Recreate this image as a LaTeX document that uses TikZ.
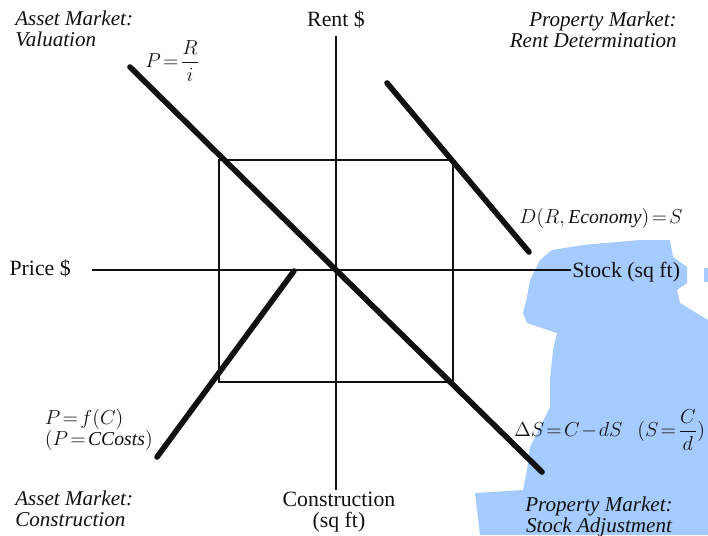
\documentclass[tikz,border=0pt]{standalone}
\usepackage{fontspec}
\setmainfont{Liberation Serif}
\usepackage{amsmath}
\definecolor{inkblack}{HTML}{111111}
\definecolor{scanblue}{HTML}{A6CBFE}
\usetikzlibrary{positioning, calc}
\newcommand{\tighteq}{\thickmuskip=2mu\relax\medmuskip=1.5mu\relax}
\tikzset{
  axis/.style={draw=inkblack, line width=1.3pt},
  quad/.style={draw=inkblack, line width=0.9pt},
  curve/.style={draw=inkblack, line width=4pt, line cap=round},
  head/.style={font=\fontsize{15}{14.5}\selectfont\itshape, text=inkblack, inner sep=0pt},
  lbl/.style={font=\fontsize{15.5}{15}\selectfont, text=inkblack, inner sep=0pt},
  eqn/.style={font=\fontsize{14}{15}\selectfont\tighteq, text=inkblack, inner sep=0pt},
}

\begin{document}
\begin{tikzpicture}[x=0.025cm, y=-0.025cm]
    \useasboundingbox (0,0) rectangle (708,535);

    % scan blemish
    \fill[scanblue]
      (552,250) -- (583,245) -- (617,242) -- (640,240) -- (670,240) -- (673,257)
      -- (687,267) -- (687,283) -- (677,290) -- (680,303) -- (703,317) -- (708,320)
      -- (708,535) -- (480,535) -- (475,493) -- (523,490) -- (527,470) -- (530,447)
      -- (540,427) -- (550,407) -- (550,380) -- (553,350) -- (557,333) -- (527,323)
      -- (523,313) -- (527,297) -- (530,280) -- (540,260) -- cycle;
    \fill[scanblue] (704,268) rectangle (708,282);

    % axes
    \coordinate (O) at (336,270);
    \coordinate (rtop) at (336,36);
    \coordinate (cbot) at (336,490);
    \coordinate (pleft) at (92,270);
    \coordinate (sright) at (571,270);
    \draw[axis] (rtop) -- (cbot);
    \draw[axis] (pleft) -- (sright);

    % four-quadrant rectangle
    \coordinate (tl) at (219,160);
    \coordinate (tr) at (453,160);
    \coordinate (br) at (453,382);
    \coordinate (bl) at (219,382);
    \draw[quad] (tl) -- (tr) -- (br) -- (bl) -- cycle;

    % schedules
    \coordinate (valstart) at (130,67);
    \coordinate (adjend) at (542,472);
    \coordinate (rentstart) at (387,83);
    \coordinate (rentend) at (529,252);
    \coordinate (conaxis) at (294,271);
    \coordinate (conend) at (157,457);
    \draw[curve] (valstart) -- (O);
    \draw[curve] (O) -- (adjend);
    \draw[curve] (rentstart) -- (rentend);
    \draw[curve] (conaxis) -- (conend);

    % axis labels
    \node[lbl] (rentlbl) at (336,19) {Rent \$};
    \node[lbl, anchor=east] (pricelbl) at (71,268) {Price \$};
    \node[lbl, anchor=west] (stocklbl) at (572,272) {Stock (sq ft)};
    \node[lbl, align=center, anchor=north] (conlbl) at (339,492) {Construction\\(sq ft)};

    % quadrant headings
    \node[head, align=left, anchor=north west] (valhead) at (15,11) {Asset Market:\\Valuation};
    \node[head, align=right, anchor=north east] (renthead) at (677,12) {Property Market:\\Rent Determination};
    \node[head, align=left, anchor=north west] (conhead) at (15,491) {Asset Market:\\Construction};
    \node[head, align=center, anchor=north] (adjhead) at (599,497) {Property Market:\\Stock Adjustment};

    % equations
    \node[eqn, anchor=west] (valeq) at (145,61) {$P=\dfrac{R}{i}$};
    \node[eqn] (renteq) at (601,218) {$D(R,\mathit{Economy})=S$};
    \node[eqn, align=left, anchor=east] (coneq) at (153,430) {$P=f(C)$\\$(P=\mathit{CCosts})$};
    \node[eqn, anchor=west] (adjeq) at (514,430) {$\Delta S=C-dS\ \ \ (S=\dfrac{C}{d})$};
  \end{tikzpicture}
\end{document}
